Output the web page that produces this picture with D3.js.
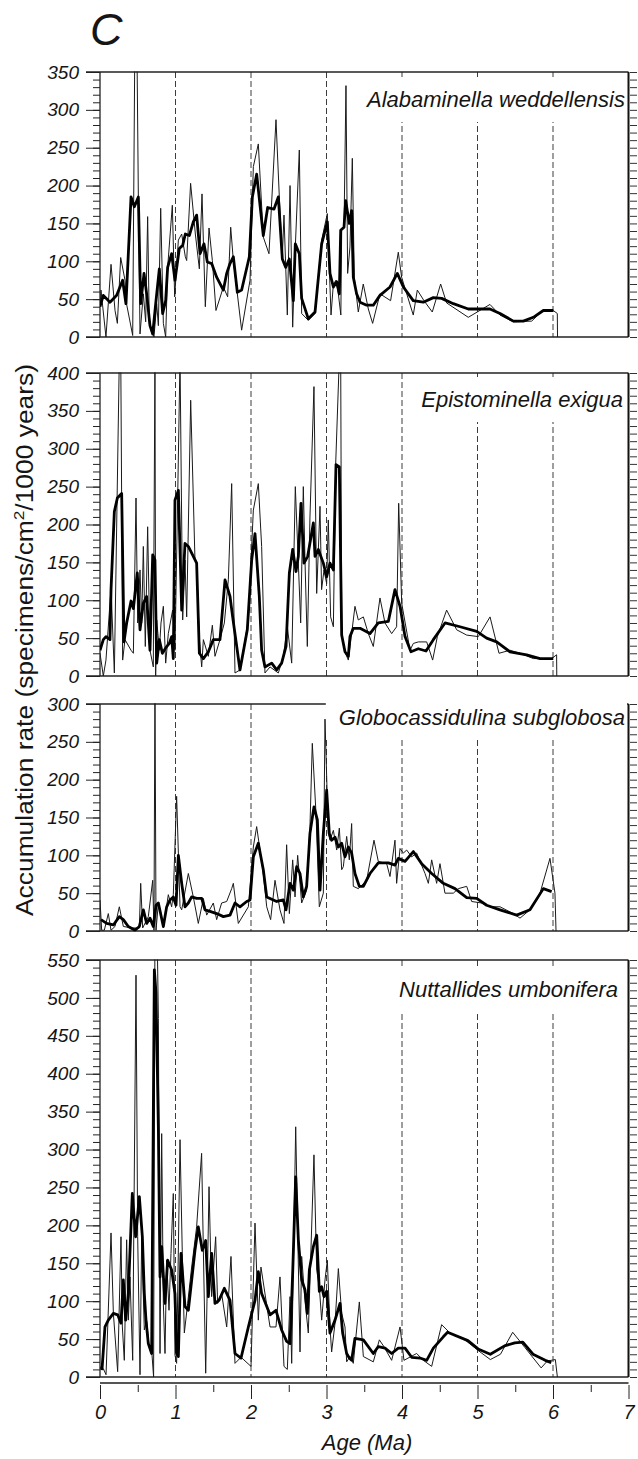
<!DOCTYPE html>
<html><head><meta charset="utf-8">
<script src="https://cdn.jsdelivr.net/npm/d3@7"></script>
<style>
body{margin:0;background:#fff}
svg{display:block}
text{font-family:"Liberation Sans",Arial,Helvetica,sans-serif;font-style:italic;fill:#151515}
</style>
</head><body>
<svg id="c" width="638" height="1459"></svg>
<script>
const ageTicks = [0,1,2,3,4,5,6,7];
const ageMinorTicks = [0.5,1.5,2.5,3.5,4.5,5.5,6.5];
const dashAges = [1,2,3,4,5,6];
const species = ["Alabaminella weddellensis","Epistominella exigua","Globocassidulina subglobosa","Nuttallides umbonifera"];
const yMax = [350,400,300,550];

// [age (Ma), accumulation rate] — thin line = raw samples, thick line = smoothed
const alaRaw = [[0,40],[0.013,62],[0.079,0],[0.146,96],[0.199,35],[0.23,18],[0.274,105],[0.331,75],[0.353,43],[0.433,2],[0.464,420],[0.486,420],[0.508,185],[0.53,4],[0.574,57],[0.605,20],[0.631,159],[0.653,18],[0.684,9],[0.715,0],[0.751,44],[0.773,15],[0.804,170],[0.839,18],[0.87,0],[0.896,92],[0.958,174],[0.989,53],[1.038,128],[1.082,136],[1.13,106],[1.148,101],[1.2,203],[1.263,136],[1.316,90],[1.351,189],[1.395,40],[1.444,144],[1.488,101],[1.536,35],[1.634,66],[1.691,53],[1.731,145],[1.766,101],[1.819,57],[1.876,9],[1.987,75],[2.031,225],[2.097,255],[2.163,132],[2.238,110],[2.331,287],[2.375,185],[2.415,106],[2.437,161],[2.481,29],[2.517,200],[2.552,13],[2.583,110],[2.64,247],[2.671,31],[2.759,22],[2.848,31],[2.936,128],[3.011,163],[3.06,29],[3.091,70],[3.126,75],[3.157,57],[3.19,29],[3.201,141],[3.232,145],[3.258,332],[3.28,84],[3.311,119],[3.342,236],[3.368,79],[3.421,33],[3.487,70],[3.554,37],[3.611,18],[3.708,57],[3.849,48],[3.951,112],[3.995,79],[4.149,29],[4.203,62],[4.291,48],[4.401,33],[4.512,70],[4.591,45],[4.878,26],[5.165,43],[5.298,29],[5.475,20],[5.718,21],[5.872,36],[6.004,35],[6.057,31],[6.06,0]];
const alaSmooth = [[0,40],[0.044,55],[0.132,46],[0.221,55],[0.3,75],[0.344,44],[0.411,185],[0.455,172],[0.508,185],[0.539,44],[0.583,84],[0.618,57],[0.662,15],[0.698,4],[0.742,48],[0.786,90],[0.83,31],[0.87,48],[0.896,92],[0.949,110],[0.993,75],[1.051,117],[1.095,121],[1.13,136],[1.183,134],[1.236,152],[1.28,161],[1.325,110],[1.377,123],[1.422,99],[1.479,97],[1.545,79],[1.634,62],[1.678,84],[1.722,97],[1.766,106],[1.819,59],[1.876,62],[1.978,106],[2.018,185],[2.075,215],[2.163,134],[2.221,171],[2.305,169],[2.362,185],[2.415,103],[2.459,92],[2.508,103],[2.561,48],[2.587,123],[2.64,110],[2.671,51],[2.759,24],[2.848,33],[2.936,123],[3.011,152],[3.046,84],[3.091,66],[3.135,73],[3.17,57],[3.188,141],[3.232,145],[3.254,180],[3.302,150],[3.333,167],[3.355,79],[3.399,57],[3.444,46],[3.532,42],[3.62,42],[3.708,55],[3.841,66],[3.938,84],[4.018,66],[4.149,48],[4.282,46],[4.415,52],[4.525,51],[4.68,44],[4.878,37],[5.165,37],[5.298,31],[5.475,21],[5.607,21],[5.74,26],[5.872,35],[6.004,35]];

const epiRaw = [[0,30],[0.044,0],[0.079,21],[0.146,116],[0.19,4],[0.256,420],[0.275,420],[0.3,21],[0.331,48],[0.411,34],[0.442,30],[0.477,235],[0.499,70],[0.53,140],[0.552,70],[0.574,171],[0.6,39],[0.631,197],[0.662,34],[0.706,12],[0.728,420],[0.737,0],[0.751,74],[0.786,34],[0.808,70],[0.839,92],[0.87,17],[0.905,56],[0.962,87],[0.993,34],[1.029,237],[1.06,420],[1.095,74],[1.126,153],[1.148,78],[1.201,364],[1.258,153],[1.28,149],[1.316,48],[1.347,12],[1.369,48],[1.435,26],[1.488,67],[1.523,26],[1.589,48],[1.647,70],[1.7,127],[1.744,254],[1.788,4],[1.854,8],[1.965,74],[2.031,219],[2.097,254],[2.141,171],[2.185,4],[2.252,12],[2.362,4],[2.428,26],[2.481,65],[2.539,17],[2.587,250],[2.627,149],[2.658,70],[2.693,250],[2.715,153],[2.746,39],[2.781,210],[2.834,382],[2.87,109],[2.914,224],[2.935,114],[2.967,140],[3.002,122],[3.024,206],[3.055,78],[3.091,65],[3.122,281],[3.17,420],[3.188,420],[3.201,56],[3.245,32],[3.289,21],[3.333,56],[3.377,92],[3.421,74],[3.488,78],[3.554,56],[3.62,39],[3.708,103],[3.775,70],[3.863,56],[3.929,65],[3.956,228],[3.996,96],[4.106,34],[4.15,43],[4.216,45],[4.327,45],[4.406,21],[4.468,52],[4.591,87],[4.724,61],[4.857,54],[5.011,52],[5.166,78],[5.285,30],[5.43,34],[5.563,30],[5.74,23],[5.982,23],[6.048,28],[6.05,0]];
const epiSmooth = [[0,34],[0.044,48],[0.079,52],[0.132,48],[0.146,114],[0.19,217],[0.23,235],[0.287,241],[0.318,45],[0.353,70],[0.411,99],[0.442,89],[0.494,136],[0.53,61],[0.574,96],[0.618,105],[0.662,34],[0.698,160],[0.728,153],[0.751,17],[0.786,48],[0.826,30],[0.87,37],[0.918,43],[0.949,52],[0.971,23],[0.993,232],[1.038,245],[1.082,87],[1.126,175],[1.17,171],[1.236,158],[1.28,149],[1.316,30],[1.369,23],[1.435,32],[1.501,48],[1.589,48],[1.656,127],[1.722,105],[1.757,78],[1.854,8],[1.951,61],[2.009,153],[2.053,188],[2.11,105],[2.141,34],[2.185,12],[2.274,17],[2.34,8],[2.406,17],[2.464,39],[2.508,136],[2.552,167],[2.596,138],[2.627,158],[2.662,228],[2.702,149],[2.751,158],[2.826,202],[2.848,158],[2.892,167],[2.958,149],[3.002,131],[3.046,149],[3.091,140],[3.126,279],[3.17,276],[3.201,54],[3.245,32],[3.289,26],[3.311,52],[3.355,63],[3.444,63],[3.576,56],[3.686,70],[3.819,72],[3.907,114],[3.974,92],[4.04,52],[4.119,32],[4.216,36],[4.318,33],[4.415,48],[4.57,70],[4.768,65],[4.989,59],[5.121,50],[5.254,45],[5.43,32],[5.651,28],[5.828,23],[6.004,23]];

const gloRaw = [[0,41],[0.022,1],[0.057,1],[0.11,23],[0.146,1],[0.199,6],[0.256,32],[0.309,6],[0.419,4],[0.521,4],[0.539,63],[0.565,4],[0.64,19],[0.698,67],[0.715,1],[0.728,330],[0.742,1],[0.773,37],[0.839,4],[0.905,48],[0.949,32],[0.971,48],[1.015,178],[1.06,32],[1.082,28],[1.17,76],[1.236,45],[1.302,10],[1.369,43],[1.413,21],[1.501,37],[1.545,15],[1.611,37],[1.678,39],[1.744,56],[1.766,63],[1.832,10],[1.965,32],[2.031,111],[2.075,138],[2.163,76],[2.208,32],[2.26,15],[2.318,67],[2.384,28],[2.437,10],[2.472,114],[2.508,23],[2.552,94],[2.583,45],[2.618,100],[2.671,37],[2.737,54],[2.781,138],[2.812,248],[2.861,155],[2.905,32],[2.958,50],[2.98,280],[3.024,129],[3.046,120],[3.091,133],[3.135,107],[3.17,136],[3.201,81],[3.223,85],[3.267,125],[3.302,94],[3.333,142],[3.355,59],[3.421,56],[3.532,67],[3.629,120],[3.686,92],[3.797,89],[3.841,72],[3.907,120],[3.929,63],[3.974,109],[4.018,103],[4.062,107],[4.128,98],[4.194,103],[4.305,76],[4.349,63],[4.393,94],[4.459,63],[4.503,89],[4.569,50],[4.68,50],[4.746,56],[4.857,59],[4.923,39],[5.055,37],[5.166,32],[5.298,32],[5.475,23],[5.563,17],[5.695,28],[5.828,50],[5.96,96],[6.026,50],[6.04,0]];
const gloSmooth = [[0.013,15],[0.088,10],[0.177,8],[0.256,19],[0.309,15],[0.375,6],[0.464,1],[0.521,6],[0.574,28],[0.618,10],[0.662,17],[0.706,6],[0.742,34],[0.773,37],[0.839,6],[0.883,32],[0.927,41],[0.971,45],[1.007,34],[1.038,100],[1.082,63],[1.126,32],[1.17,37],[1.214,45],[1.28,43],[1.347,43],[1.391,28],[1.457,26],[1.545,23],[1.634,19],[1.722,21],[1.788,37],[1.854,32],[1.943,39],[1.987,41],[2.031,98],[2.097,116],[2.163,81],[2.208,45],[2.34,39],[2.428,41],[2.464,28],[2.517,63],[2.561,54],[2.605,85],[2.649,76],[2.693,45],[2.737,59],[2.781,129],[2.834,164],[2.879,147],[2.914,54],[2.958,129],[3.002,186],[3.037,129],[3.068,120],[3.113,124],[3.157,111],[3.201,116],[3.245,98],[3.289,111],[3.333,103],[3.377,76],[3.435,59],[3.488,59],[3.576,76],[3.686,90],[3.819,90],[3.907,87],[3.951,96],[4.04,92],[4.15,105],[4.26,89],[4.393,76],[4.547,63],[4.702,56],[4.857,44],[4.989,43],[5.121,34],[5.298,28],[5.519,21],[5.695,28],[5.872,56],[5.982,52]];

const nutRaw = [[0,10],[0.013,14],[0.044,11],[0.08,3],[0.146,190],[0.177,84],[0.234,7],[0.278,185],[0.296,66],[0.322,22],[0.353,181],[0.375,75],[0.397,132],[0.433,22],[0.477,530],[0.499,185],[0.53,3],[0.552,185],[0.587,62],[0.618,75],[0.649,40],[0.684,36],[0.71,0],[0.728,600],[0.755,600],[0.773,473],[0.795,31],[0.817,321],[0.839,97],[0.861,31],[0.883,154],[0.914,88],[0.94,163],[0.971,242],[0.993,29],[1.015,18],[1.06,313],[1.09,163],[1.117,58],[1.161,97],[1.214,145],[1.28,198],[1.346,295],[1.369,167],[1.4,5],[1.444,251],[1.479,106],[1.532,185],[1.558,97],[1.611,110],[1.678,66],[1.735,159],[1.788,18],[1.868,26],[2.0,14],[2.053,203],[2.097,75],[2.132,145],[2.252,66],[2.331,66],[2.384,132],[2.437,14],[2.481,10],[2.517,106],[2.539,18],[2.592,330],[2.649,33],[2.671,159],[2.715,101],[2.759,58],[2.834,293],[2.87,141],[2.905,119],[2.936,75],[2.98,128],[3.011,154],[3.046,66],[3.068,33],[3.113,71],[3.157,143],[3.201,84],[3.245,66],[3.267,20],[3.311,27],[3.355,18],[3.435,99],[3.488,27],[3.62,20],[3.7,49],[3.761,40],[3.863,22],[3.974,66],[4.026,22],[4.194,31],[4.283,22],[4.393,14],[4.525,69],[4.636,58],[4.82,50],[5.008,35],[5.17,23],[5.304,30],[5.466,59],[5.627,39],[5.843,12],[5.924,21],[6.031,23],[6.058,0]];
const nutSmooth = [[0.026,9],[0.066,66],[0.11,75],[0.177,84],[0.234,82],[0.278,71],[0.309,128],[0.34,75],[0.375,110],[0.428,242],[0.472,185],[0.521,238],[0.561,185],[0.587,110],[0.609,75],[0.64,44],[0.684,31],[0.72,537],[0.742,506],[0.773,330],[0.795,132],[0.817,172],[0.861,97],[0.896,154],[0.949,141],[0.993,110],[1.015,31],[1.038,27],[1.073,163],[1.126,93],[1.17,88],[1.258,167],[1.302,198],[1.355,167],[1.4,180],[1.435,106],[1.479,163],[1.523,97],[1.576,101],[1.647,117],[1.722,101],[1.788,31],[1.868,25],[1.965,66],[2.053,101],[2.097,139],[2.141,110],[2.252,82],[2.331,88],[2.406,62],[2.472,47],[2.517,44],[2.552,137],[2.592,264],[2.627,181],[2.671,128],[2.715,115],[2.746,84],[2.773,141],[2.826,172],[2.87,187],[2.905,113],[2.936,119],[2.967,106],[3.002,113],[3.046,58],[3.113,75],[3.179,97],[3.214,58],[3.267,31],[3.302,25],[3.333,22],[3.377,51],[3.488,49],[3.62,31],[3.686,40],[3.775,38],[3.863,31],[3.951,38],[4.04,38],[4.128,26],[4.238,25],[4.327,22],[4.415,38],[4.547,53],[4.604,59],[4.873,48],[5.008,37],[5.17,30],[5.358,41],[5.493,45],[5.6,46],[5.735,30],[5.897,22],[5.977,19]];

const rawSeries = [alaRaw, epiRaw, gloRaw, nutRaw];
const smoothSeries = [alaSmooth, epiSmooth, gloSmooth, nutSmooth];

// layout
const layout = [
  {top:72,  bottom:337,  labelEnd:625, labelBase:107},
  {top:373, bottom:676,  labelEnd:623, labelBase:407},
  {top:704, bottom:931,  labelEnd:625, labelBase:725},
  {top:960, bottom:1377, labelEnd:618, labelBase:997}
];
const X0 = 100, X1 = 628.5;

const svg = d3.select("#c");
const defs = svg.append("defs");
const x = d3.scaleLinear().domain([0,7]).range([X0,X1]);

// panel letter
svg.append("text").attr("x",90).attr("y",45).attr("font-size",45).text("C");

layout.forEach((L,i)=>{
  const y = d3.scaleLinear().domain([0,yMax[i]]).range([L.bottom,L.top]);
  const g = svg.append("g");
  const cid = "clip"+i;
  defs.append("clipPath").attr("id",cid).append("rect")
    .attr("x",X0).attr("y",L.top-0.5).attr("width",X1-X0).attr("height",L.bottom-L.top+1);

  // dashed age guides
  g.append("g").selectAll("line").data(dashAges).join("line")
    .attr("x1",d=>x(d)).attr("x2",d=>x(d)).attr("y1",L.top).attr("y2",L.bottom)
    .attr("stroke","#3c3c3c").attr("stroke-width",1).attr("stroke-dasharray","6,3");

  // left axis minor / major
  const minor = d3.range(0,yMax[i]+1,10);
  const major = d3.range(0,yMax[i]+1,50);
  g.append("g").attr("transform",`translate(${X0},0)`).attr("color","#222")
    .call(d3.axisLeft(y).tickValues(minor).tickSize(7).tickFormat(""))
    .call(s=>s.select(".domain").remove());
  const ax = g.append("g").attr("transform",`translate(${X0},0)`).attr("color","#222")
    .call(d3.axisLeft(y).tickValues(major).tickSize(14).tickPadding(7).tickFormat(d3.format("d")))
    .call(s=>s.select(".domain").remove());
  ax.selectAll("text").attr("font-size",19).style("font-style","italic").attr("fill","#151515");

  // right axis
  g.append("g").attr("transform",`translate(${X1+1.5},0)`).attr("color","#333")
    .call(d3.axisRight(y).tickValues(minor).tickSize(7).tickFormat(""))
    .call(s=>s.select(".domain").remove());

  // frame
  g.append("line").attr("x1",86).attr("x2",X1).attr("y1",L.top).attr("y2",L.top).attr("stroke","#222").attr("stroke-width",1.3);
  g.append("line").attr("x1",86).attr("x2",X1).attr("y1",L.bottom).attr("y2",L.bottom).attr("stroke","#222").attr("stroke-width",1.3);
  g.append("line").attr("x1",X0).attr("x2",X0).attr("y1",L.top).attr("y2",L.bottom).attr("stroke","#222").attr("stroke-width",1.3);
  g.append("line").attr("x1",X1).attr("x2",X1).attr("y1",L.top).attr("y2",L.bottom).attr("stroke","#111").attr("stroke-width",2);

  // species label with white box
  const box = g.append("rect").attr("fill","#fff");
  const lab = g.append("text").attr("x",L.labelEnd).attr("y",L.labelBase)
    .attr("text-anchor","end").attr("font-size",22).text(species[i]);
  const w = lab.node().getComputedTextLength();
  box.attr("x",L.labelEnd-w-13).attr("y",L.labelBase-30).attr("width",w+15).attr("height",45);

  // data
  const line = d3.line().x(d=>x(d[0])).y(d=>y(d[1]));
  const dg = g.append("g").attr("clip-path",`url(#${cid})`);
  dg.append("path").attr("d",line(rawSeries[i])).attr("fill","none")
    .attr("stroke","#1a1a1a").attr("stroke-width",1).attr("stroke-linejoin","miter");
  dg.append("path").attr("d",line(smoothSeries[i])).attr("fill","none")
    .attr("stroke","#000").attr("stroke-width",2.8).attr("stroke-linejoin","round");
});

// bottom age axis
svg.append("line").attr("x1",X0).attr("x2",X1).attr("y1",1383).attr("y2",1383).attr("stroke","#555").attr("stroke-width",2);
svg.append("g").attr("transform","translate(0,1385)").attr("color","#222")
  .call(d3.axisBottom(x).tickValues(ageMinorTicks).tickSize(7).tickFormat(""))
  .call(s=>s.select(".domain").remove());
const bx = svg.append("g").attr("transform","translate(0,1385)").attr("color","#222")
  .call(d3.axisBottom(x).tickValues(ageTicks).tickSize(14).tickPadding(6).tickFormat(d3.format("d")))
  .call(s=>s.select(".domain").remove());
bx.selectAll("text").attr("font-size",20).style("font-style","italic").attr("fill","#151515");

svg.append("text").attr("x",367).attr("y",1450).attr("text-anchor","middle").attr("font-size",22).text("Age (Ma)");

// y title
const yt = svg.append("text").attr("transform","translate(33,640) rotate(-90)")
  .attr("text-anchor","middle").attr("font-size",23).style("font-style","normal")
  .attr("textLength",552).attr("lengthAdjust","spacingAndGlyphs");
yt.append("tspan").text("Accumulation rate (specimens/cm");
yt.append("tspan").attr("font-size",15).attr("dy",-9).text("2");
yt.append("tspan").attr("dy",9).text("/1000 years)");
</script>
</body></html>
